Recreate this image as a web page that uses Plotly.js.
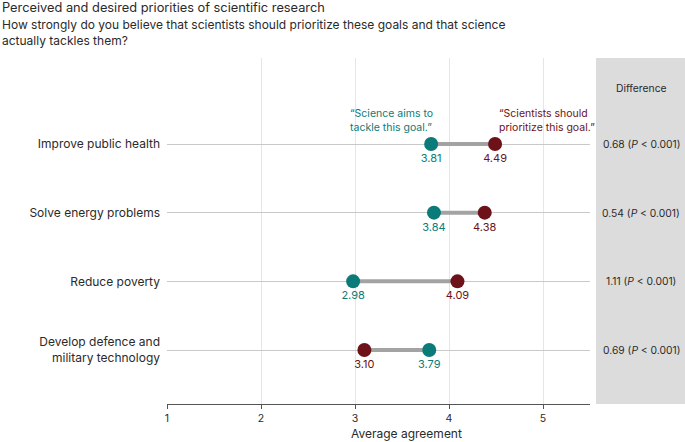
<!DOCTYPE html>
<html>
<head>
<meta charset="utf-8">
<script src="https://cdn.plot.ly/plotly-3.0.1.min.js"></script>
<style>html,body{margin:0;padding:0;background:#fff;}#chart{width:685px;height:442px;}</style>
</head>
<body>
<div id="chart"></div>
<script>
const categories = ['Improve public health', 'Solve energy problems', 'Reduce poverty', 'Develop defence and<br>military technology'];
const tackle = [3.81, 3.84, 2.98, 3.79];
const prioritize = [4.49, 4.38, 4.09, 3.10];
const differences = ['0.68', '0.54', '1.11', '0.69'];
const xTicks = [1, 2, 3, 4, 5];

const TEAL = '#0b7b79';
const RED = '#6c1218';
const INK = '#2a2a2a';
const FONT = 'Inter, "Noto Sans", sans-serif';
const L = 167, R = 590, T = 58, B = 404, W = 685, H = 442;
const px = v => (v - L) / (R - L);
const py = v => (B - v) / (B - T);

const traces = [];
categories.forEach((c, i) => {
  traces.push({
    x: [tackle[i], prioritize[i]], y: [c, c], mode: 'lines', type: 'scatter',
    line: {color: '#a3a3a3', width: 4}, hoverinfo: 'skip', showlegend: false
  });
});
traces.push({
  x: tackle, y: categories, mode: 'markers+text', type: 'scatter',
  marker: {color: TEAL, size: 14}, text: tackle.map(v => v.toFixed(2)),
  textposition: 'bottom center', textfont: {color: TEAL, size: 11, family: FONT}, showlegend: false
});
traces.push({
  x: prioritize, y: categories, mode: 'markers+text', type: 'scatter',
  marker: {color: RED, size: 14}, text: prioritize.map(v => v.toFixed(2)),
  textposition: 'bottom center', textfont: {color: RED, size: 11, family: FONT}, showlegend: false
});

const annotations = [
  {text: 'Perceived and desired priorities of scientific research', xref: 'paper', yref: 'paper', x: px(0), y: py(7), xanchor: 'left', yanchor: 'middle', showarrow: false, font: {size: 12.8, color: INK}},
  {text: 'How strongly do you believe that scientists should prioritize these goals and that science<br>actually tackles them?', xref: 'paper', yref: 'paper', x: px(0), y: py(33), xanchor: 'left', yanchor: 'middle', align: 'left', showarrow: false, font: {size: 12, color: INK}},
  {text: 'Difference', xref: 'paper', yref: 'paper', x: px(641), y: py(88), xanchor: 'center', yanchor: 'middle', showarrow: false, font: {size: 10.3, color: INK}},
  {text: '“Science aims to<br>tackle this goal.”', xref: 'paper', yref: 'paper', x: px(348), y: py(120.5), xanchor: 'left', yanchor: 'middle', align: 'left', showarrow: false, font: {size: 10.5, color: TEAL}},
  {text: '“Scientists should<br>prioritize this goal.”', xref: 'paper', yref: 'paper', x: px(497), y: py(120.5), xanchor: 'left', yanchor: 'middle', align: 'left', showarrow: false, font: {size: 10.5, color: RED}},
  {text: 'Average agreement', xref: 'paper', yref: 'paper', x: px(406), y: py(433), xanchor: 'center', yanchor: 'middle', showarrow: false, font: {size: 12, color: INK}}
];
categories.forEach((c, i) => {
  annotations.push({text: differences[i] + ' (<i>P</i> < 0.001)', xref: 'paper', yref: 'y', x: px(641), y: c, xanchor: 'center', yanchor: 'middle', showarrow: false, font: {size: 10.3, color: INK}});
});

const unit = (350 - 144) / 3;
const layout = {
  width: W, height: H,
  margin: {l: L, r: W - R, t: T, b: H - B, pad: 0},
  paper_bgcolor: '#fff', plot_bgcolor: 'rgba(0,0,0,0)',
  font: {family: FONT, size: 12, color: INK},
  xaxis: {
    range: [1, 5.5], tickvals: xTicks, ticktext: xTicks.map(String),
    showgrid: true, gridcolor: '#e6e6e6', gridwidth: 1, zeroline: false,
    showline: true, linecolor: '#555', linewidth: 1,
    ticks: 'outside', ticklen: 4, tickcolor: '#555',
    tickfont: {size: 10.5, color: INK}, fixedrange: true
  },
  yaxis: {
    type: 'category', categoryorder: 'array', categoryarray: categories,
    range: [3 + (B - 350) / unit, -(144 - T) / unit],
    showgrid: true, gridcolor: '#c9c9c9', gridwidth: 1, zeroline: false,
    showline: false, ticks: '', ticklabelstandoff: 6,
    tickfont: {size: 12, color: INK}, fixedrange: true
  },
  shapes: [
    {type: 'rect', xref: 'paper', yref: 'paper', x0: px(596), x1: px(W), y0: 0, y1: py(T), fillcolor: '#dcdcdc', line: {width: 0}, layer: 'below'}
  ],
  annotations: annotations
};

Plotly.newPlot('chart', traces, layout, {displayModeBar: false, staticPlot: true});
</script>
</body>
</html>
